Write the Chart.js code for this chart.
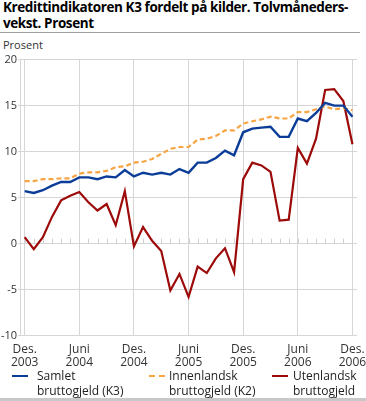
<!DOCTYPE html>
<html><head><meta charset="utf-8">
<script src="https://cdn.jsdelivr.net/npm/chart.js@4/dist/chart.umd.min.js"></script>
<style>
body{margin:0;width:366px;height:401px;position:relative;font-family:"Open Sans",sans-serif;background:#fff;overflow:hidden}
#title{position:absolute;left:3px;top:-1px;font-weight:bold;font-size:13.5px;line-height:16px;color:#000;white-space:nowrap}
#rule{position:absolute;left:0;top:32px;width:360px;height:1px;background:#a0a0a0}
#unit{position:absolute;left:3px;top:37px;font-size:11px;color:#333}
#wrap{position:absolute;left:0;top:52px;width:366px;height:324px}
.lg{position:absolute;top:368px;font-size:12px;line-height:15px;color:#222}
.sw{position:absolute;left:0;top:7px;width:16px;height:0}
.tx{position:absolute;white-space:nowrap}
#bar{position:absolute;left:0;top:398px;width:366px;height:3px;background:#c8c8c8}
</style></head>
<body>
<div id="title"><span id="t1">Kredittindikatoren K3 fordelt på kilder. Tolvmåneders-</span><br><span id="t2">vekst. Prosent</span></div>
<div id="rule"></div>
<div id="unit">Prosent</div>
<div id="wrap"><canvas id="c"></canvas></div>
<div class="lg" style="left:12px"><span class="sw" style="border-top:2px solid #0a3c98"></span><div class="tx" style="left:25px">Samlet<br>bruttogjeld (K3)</div></div>
<div class="lg" style="left:149px"><span class="sw" style="border-top:2px dashed #f7a443"></span><div class="tx" style="left:20px">Innenlandsk<br>bruttogjeld (K2)</div></div>
<div class="lg" style="left:272px"><span class="sw" style="border-top:2px solid #9c0a0a"></span><div class="tx" style="left:21px">Utenlandsk<br>bruttogjeld</div></div>
<div id="bar"></div>
<script>
const months = ["2003-12","2004-01","2004-02","2004-03","2004-04","2004-05","2004-06","2004-07","2004-08","2004-09","2004-10","2004-11",
"2004-12","2005-01","2005-02","2005-03","2005-04","2005-05","2005-06","2005-07","2005-08","2005-09","2005-10","2005-11",
"2005-12","2006-01","2006-02","2006-03","2006-04","2006-05","2006-06","2006-07","2006-08","2006-09","2006-10","2006-11","2006-12"];
const samlet = [5.7,5.5,5.8,6.3,6.7,6.7,7.2,7.2,7.0,7.3,7.2,8.0,
7.3,7.7,7.5,7.7,7.5,8.1,7.7,8.8,8.8,9.3,10.1,9.6,
12.1,12.5,12.6,12.7,11.6,11.6,13.6,13.3,14.2,15.3,15.0,15.0,13.8];
const innenlandsk = [6.8,6.8,7.0,7.0,7.1,7.1,7.6,7.75,7.75,7.9,8.3,8.4,
8.8,8.9,9.2,9.75,10.3,10.5,10.5,11.3,11.4,11.7,12.3,12.3,
13.05,13.3,13.5,13.8,13.6,13.6,14.3,14.3,14.6,14.9,14.6,14.7,14.5];
const utenlandsk = [0.7,-0.6,0.7,2.9,4.7,5.2,5.6,4.5,3.6,4.3,2.0,5.7,
-0.3,1.8,0.3,-0.8,-5.1,-3.3,-5.8,-2.5,-3.2,-1.6,-0.5,-3.1,
7.0,8.8,8.5,7.8,2.5,2.6,10.4,8.7,11.4,16.7,16.8,15.5,10.8];
const xTickIndex = [0,6,12,18,24,30,36];
const xTickLabels = [["Des.","2003"],["Juni","2004"],["Des.","2004"],["Juni","2005"],["Des.","2005"],["Juni","2006"],["Des.","2006"]];
const yTicks = [-10,-5,0,5,10,15,20];

// fit title first line to reference width
(function(){
  const t1 = document.getElementById('t1');
  const w = t1.getBoundingClientRect().width;
  const n = t1.textContent.length;
  document.getElementById('title').style.letterSpacing = ((345 - w)/n) + 'px';
})();

const minorTicks = {
  id:'minorTicks',
  beforeDatasetsDraw(chart){
    const {ctx, scales:{x,y}} = chart;
    const y0 = y.getPixelForValue(0);
    ctx.save();
    ctx.strokeStyle = '#cfcfcf'; ctx.lineWidth = 1;
    for(let i=0;i<months.length;i++){
      const px = Math.round(x.getPixelForValue(i))+0.5;
      ctx.beginPath(); ctx.moveTo(px,y0); ctx.lineTo(px,y0-5); ctx.stroke();
    }
    ctx.restore();
  }
};

new Chart(document.getElementById('c'), {
  type:'line',
  data:{labels:months, datasets:[
    {label:'Samlet bruttogjeld (K3)', data:samlet, borderColor:'#0a3c98', borderWidth:2.4, pointRadius:0, tension:0, fill:false},
    {label:'Innenlandsk bruttogjeld (K2)', data:innenlandsk, borderColor:'#f7a443', borderWidth:2.2, borderDash:[5,3], pointRadius:0, tension:0, fill:false},
    {label:'Utenlandsk bruttogjeld', data:utenlandsk, borderColor:'#9c0a0a', borderWidth:2.2, pointRadius:0, tension:0, fill:false}
  ]},
  options:{
    responsive:true, maintainAspectRatio:false, animation:false,
    layout:{padding:{top:4,right:9,left:0,bottom:0}},
    plugins:{legend:{display:false}, tooltip:{enabled:false}},
    scales:{
      x:{type:'category', offset:true,
        afterFit:(s)=>{s.paddingRight=0; s.paddingLeft=0;},
        grid:{offset:false, drawTicks:false, color:(c)=> xTickIndex.includes(c.index)?'#d6d6d6':'rgba(0,0,0,0)', lineWidth:1},
        border:{display:false},
        ticks:{autoSkip:false, maxRotation:0, minRotation:0, padding:7, color:'#333', font:{family:'"Open Sans"', size:12, lineHeight:1.1},
          callback:(v,i)=>{const k=xTickIndex.indexOf(i); return k>=0?xTickLabels[k]:'';}}
      },
      y:{min:-10, max:20,
        afterBuildTicks:(s)=>{s.ticks = yTicks.map(v=>({value:v}));},
        grid:{color:'#d6d6d6', tickLength:2, lineWidth:1},
        border:{display:true, color:'#d6d6d6'},
        ticks:{padding:1, color:'#333', font:{family:'"Open Sans"', size:11}}
      }
    }
  },
  plugins:[minorTicks]
});
</script>
</body></html>
